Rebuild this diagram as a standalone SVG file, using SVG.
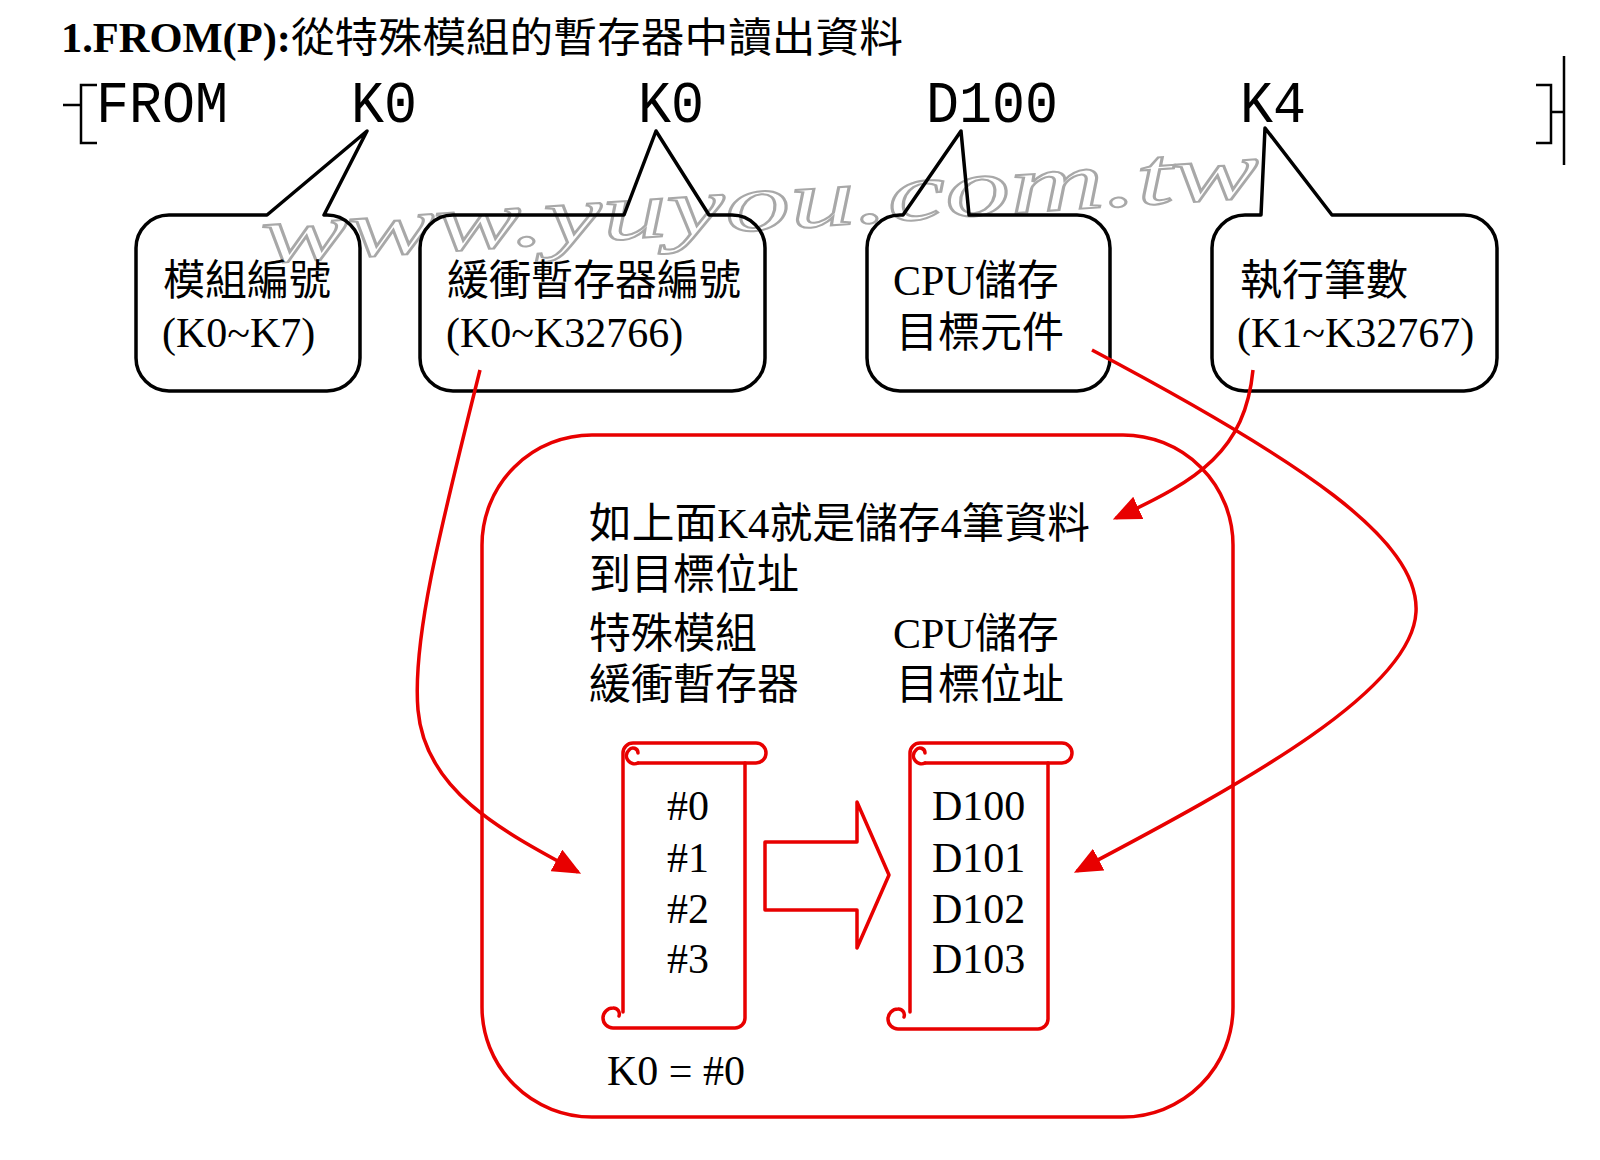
<svg xmlns="http://www.w3.org/2000/svg" width="1600" height="1160" viewBox="0 0 1600 1160">
<defs>
<style>
.cjk{font-family:"Noto Sans CJK TC","Noto Sans CJK SC",sans-serif;font-size:42px;fill:#000}
.ser{font-family:"Liberation Serif","Noto Sans CJK TC",serif;font-size:42px;fill:#000}
.mono{font-family:"Liberation Mono",monospace;font-size:55px;fill:#000}
.box{fill:none;stroke:#000;stroke-width:3.5;stroke-linejoin:round}
.red{fill:none;stroke:#e80000;stroke-width:3.5;stroke-linejoin:round;stroke-linecap:round}
.conn{fill:none;stroke:#e80000;stroke-width:3.5}
.lad{fill:none;stroke:#000;stroke-width:2.5}
.wm{font-family:"Liberation Serif",serif;font-style:italic;font-size:82px;fill:#fff;stroke:#a8a8a8;stroke-width:2}
</style>
<marker id="ah" markerWidth="8" markerHeight="7" refX="7" refY="3.5" orient="auto" markerUnits="strokeWidth">
<path d="M0,0 L8,3.5 L0,7 Z" fill="#e80000"/>
</marker>
</defs>
<rect width="1600" height="1160" fill="#fff"/>

<!-- watermark -->
<text class="wm" transform="translate(263,263) rotate(-3.8)" textLength="1000" lengthAdjust="spacingAndGlyphs">www.yuyou.com.tw</text>

<!-- title -->
<g id="title">
<text x="61" y="52" style="font-family:'Liberation Serif',serif;font-weight:bold;font-size:42px" textLength="230" lengthAdjust="spacingAndGlyphs">1.FROM(P):</text>
<text class="cjk" x="291" y="52" style="font-size:41px" textLength="612" lengthAdjust="spacingAndGlyphs">從特殊模組的暫存器中讀出資料</text>
</g>

<!-- ladder instruction -->
<g id="ladder">
<path class="lad" d="M63,105 H81 M97,85 H81 V143 H97"/>
<path class="lad" d="M1536,85 H1551 V143 H1536 M1551,112 H1564 M1564,56 V165"/>
<text class="mono" transform="translate(96,122) scale(1,1.08)">FROM</text>
<text class="mono" transform="translate(351,122) scale(1,1.08)">K0</text>
<text class="mono" transform="translate(638,122) scale(1,1.08)">K0</text>
<text class="mono" transform="translate(926,122) scale(1,1.08)">D100</text>
<text class="mono" transform="translate(1240,122) scale(1,1.08)">K4</text>
</g>

<!-- callouts -->
<g id="callout-module">
<path class="box" d="M169,215 H267 L367,131 L324,215 H327 A33,33 0 0 1 360,248 V358 A33,33 0 0 1 327,391 H169 A33,33 0 0 1 136,358 V248 A33,33 0 0 1 169,215 Z"/>
<text class="cjk" x="163" y="295">模組編號</text>
<text class="ser" x="162" y="347">(K0~K7)</text>
</g>
<g id="callout-buffer">
<path class="box" d="M453,215 H624 L656,131 L709,215 H732 A33,33 0 0 1 765,248 V358 A33,33 0 0 1 732,391 H453 A33,33 0 0 1 420,358 V248 A33,33 0 0 1 453,215 Z"/>
<text class="cjk" x="447" y="295">緩衝暫存器編號</text>
<text class="ser" x="446" y="347">(K0~K32766)</text>
</g>
<g id="callout-cpu">
<path class="box" d="M900,215 H903 L961,131 L969,215 H1077 A33,33 0 0 1 1110,248 V358 A33,33 0 0 1 1077,391 H900 A33,33 0 0 1 867,358 V248 A33,33 0 0 1 900,215 Z"/>
<text class="ser" x="893" y="295">CPU儲存</text>
<text class="cjk" x="896" y="347">目標元件</text>
</g>
<g id="callout-count">
<path class="box" d="M1245,215 H1261 L1265,128 L1332,215 H1464 A33,33 0 0 1 1497,248 V358 A33,33 0 0 1 1464,391 H1245 A33,33 0 0 1 1212,358 V248 A33,33 0 0 1 1245,215 Z"/>
<text class="cjk" x="1240" y="295">執行筆數</text>
<text class="ser" x="1237" y="347">(K1~K32767)</text>
</g>

<!-- explanation panel -->
<g id="panel">
<rect class="red" x="482" y="435" width="751" height="682" rx="110" ry="110"/>
<text class="ser" x="589" y="538" textLength="501" lengthAdjust="spacingAndGlyphs">如上面K4就是儲存4筆資料</text>
<text class="cjk" x="589" y="589">到目標位址</text>
<text class="cjk" x="589" y="648">特殊模組</text>
<text class="cjk" x="589" y="699">緩衝暫存器</text>
<text class="ser" x="893" y="648">CPU儲存</text>
<text class="cjk" x="896" y="699">目標位址</text>
<text class="ser" x="607" y="1085">K0 = #0</text>
</g>

<g id="scroll-source">
<path class="red" d="M623,1012 V753 A10,10 0 0 1 633,743 H756 A10,10 0 0 1 756,763 H638"/>
<path class="red" d="M638,763 A8,8 0 0 1 629,750 A5,5 0 0 1 638,753"/>
<path class="red" d="M745,763 V1018 A10,10 0 0 1 735,1028 H613 A10,10 0 0 1 613,1008 A6,6 0 0 1 619,1016"/>
<text class="ser" x="667" y="820">#0</text>
<text class="ser" x="667" y="872">#1</text>
<text class="ser" x="667" y="923">#2</text>
<text class="ser" x="667" y="973">#3</text>
</g>

<g id="scroll-target">
<path class="red" d="M910,1012 V753 A10,10 0 0 1 920,743 H1062 A10,10 0 0 1 1062,763 H925"/>
<path class="red" d="M925,763 A8,8 0 0 1 916,750 A5,5 0 0 1 925,753"/>
<path class="red" d="M1048,763 V1019 A10,10 0 0 1 1038,1029 H898 A10,10 0 0 1 898,1009 A6,6 0 0 1 904,1017"/>
<text class="ser" x="932" y="820">D100</text>
<text class="ser" x="932" y="872">D101</text>
<text class="ser" x="932" y="923">D102</text>
<text class="ser" x="932" y="973">D103</text>
</g>

<g id="block-arrow">
<polygon class="red" points="765,842 857,842 857,802 889,875 857,948 857,910 765,910"/>
</g>

<!-- connectors -->
<g id="connectors">
<path class="conn" marker-end="url(#ah)" d="M480,370 C440,530 412,640 418,710 C425,790 500,830 578,872"/>
<path class="conn" marker-end="url(#ah)" d="M1092,350 C1300,460 1420,540 1416,612 C1412,690 1250,780 1077,871"/>
<path class="conn" marker-end="url(#ah)" d="M1253,370 C1245,450 1200,480 1116,518"/>
</g>
</svg>
